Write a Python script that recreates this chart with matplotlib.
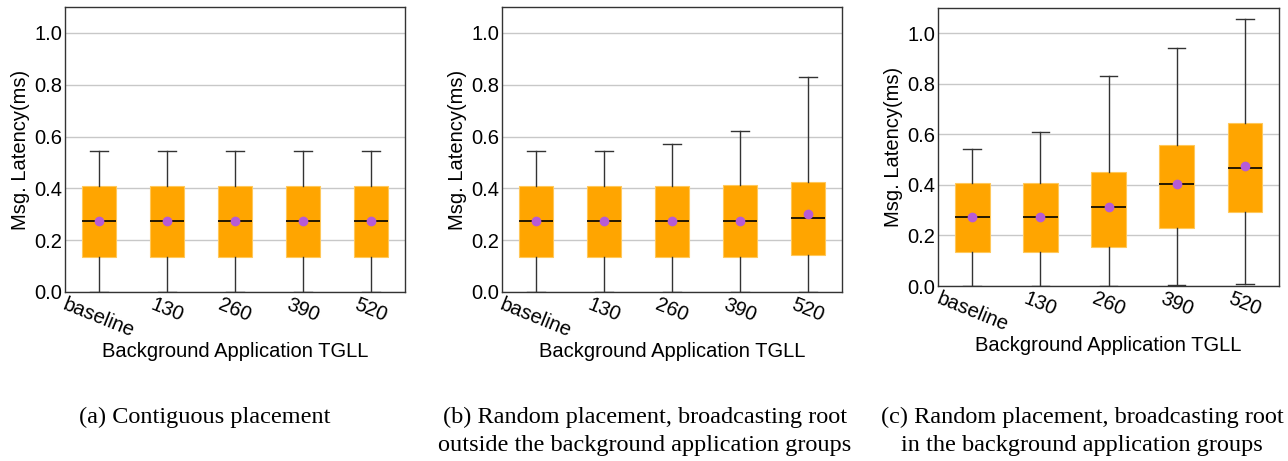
import matplotlib
matplotlib.use("Agg")
import matplotlib.pyplot as plt

# categories on the x axis
labels = ["baseline", "130", "260", "390", "520"]

# box statistics per panel (ms)
a_low = [0.0, 0.0, 0.0, 0.0, 0.0]
a_q1 = [0.137, 0.137, 0.137, 0.137, 0.137]
a_med = [0.273, 0.273, 0.273, 0.273, 0.273]
a_mean = [0.273, 0.273, 0.273, 0.273, 0.273]
a_q3 = [0.41, 0.41, 0.41, 0.41, 0.41]
a_high = [0.544, 0.544, 0.544, 0.544, 0.544]

b_low = [0.0, 0.0, 0.0, 0.0, 0.0]
b_q1 = [0.137, 0.137, 0.137, 0.137, 0.141]
b_med = [0.273, 0.273, 0.273, 0.274, 0.284]
b_mean = [0.273, 0.273, 0.273, 0.275, 0.302]
b_q3 = [0.41, 0.41, 0.41, 0.412, 0.425]
b_high = [0.544, 0.544, 0.572, 0.623, 0.831]

c_low = [0.0, 0.0, 0.0, 0.004, 0.007]
c_q1 = [0.136, 0.136, 0.154, 0.231, 0.294]
c_med = [0.273, 0.273, 0.311, 0.403, 0.466]
c_mean = [0.273, 0.273, 0.314, 0.404, 0.475]
c_q3 = [0.409, 0.409, 0.451, 0.557, 0.644]
c_high = [0.544, 0.611, 0.830, 0.942, 1.058]

captions = [
    ["(a) Contiguous placement"],
    ["(b) Random placement, broadcasting root",
     "outside the background application groups"],
    ["(c) Random placement, broadcasting root",
     "in the background application groups"],
]


def make_stats(low, q1, med, mean, q3, high):
    stats = []
    for i in range(len(labels)):
        stats.append({"whislo": low[i], "q1": q1[i], "med": med[i], "mean": mean[i],
                      "q3": q3[i], "whishi": high[i], "fliers": [], "label": labels[i]})
    return stats


panels = [
    make_stats(a_low, a_q1, a_med, a_mean, a_q3, a_high),
    make_stats(b_low, b_q1, b_med, b_mean, b_q3, b_high),
    make_stats(c_low, c_q1, c_med, c_mean, c_q3, c_high),
]

plt.rcParams['font.family'] = ['Liberation Sans', 'DejaVu Sans']

fig = plt.figure(figsize=(12.88, 4.61), dpi=100)
rects = [
    [0.0505, 0.3666, 0.264, 0.618],
    [0.3898, 0.3666, 0.264, 0.618],
    [0.7283, 0.3796, 0.2648, 0.603],
]

for stats, rect in zip(panels, rects):
    ax = fig.add_axes(rect)
    ax.bxp(stats, showmeans=True, patch_artist=True, widths=0.51,
           boxprops=dict(facecolor='orange', edgecolor='#ffc85a', linewidth=0.8),
           medianprops=dict(color='black', linewidth=1.2),
           whiskerprops=dict(color='#333333', linewidth=1.0),
           capprops=dict(color='#333333', linewidth=1.0),
           meanprops=dict(marker='o', markerfacecolor='#b65bd6', markeredgecolor='#b65bd6',
                          markersize=6))
    ax.set_ylim(0, 1.1)
    ax.set_xlim(0.5, 5.5)
    ax.set_yticks([0.0, 0.2, 0.4, 0.6, 0.8, 1.0])
    ax.yaxis.grid(True, color='#c8c8c8', linewidth=1.0)
    ax.set_axisbelow(True)
    ax.tick_params(axis='both', length=0, labelsize=14.5, pad=2)
    for lab in ax.get_xticklabels():
        lab.set_rotation(-22)
        lab.set_ha('center')
    for sp in ax.spines.values():
        sp.set_color('#333333')
        sp.set_linewidth(1.0)
    ax.set_ylabel("Msg. Latency(ms)", fontsize=14.5, labelpad=3)
    ax.set_xlabel("Background Application TGLL", fontsize=14.5, labelpad=1)

caption_x = [0.159, 0.5008, 0.840]
for cx, lines in zip(caption_x, captions):
    for j, line in enumerate(lines):
        fig.text(cx, 0.0824 - j * 0.0607, line, ha='center', va='baseline',
                 fontsize=17.5, family=['Liberation Serif', 'DejaVu Serif'])

fig.savefig("out.png", dpi=100)
